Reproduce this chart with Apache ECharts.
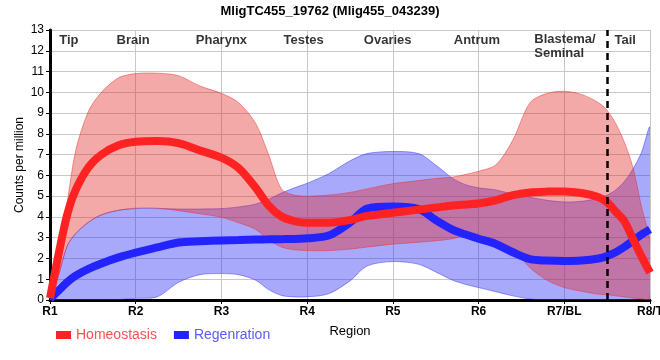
<!DOCTYPE html>
<html>
<head>
<meta charset="utf-8">
<script src="https://cdn.jsdelivr.net/npm/echarts@6/dist/echarts.min.js"></script>
<style>
html,body{margin:0;padding:0;background:#fff;}
#chart{width:660px;height:360px;}
</style>
</head>
<body>
<div id="chart"></div>
<script>
// ---- data ----
const tickLabels = ['R1', 'R2', 'R3', 'R4', 'R5', 'R6', 'R7/BL', 'R8/T'];
const xPos = [0, 0.1, 0.2, 0.3, 0.45, 0.6, 0.8, 1.0, 1.25, 1.5, 1.75, 2.0, 2.2, 2.4, 2.55, 2.7, 2.85, 3.0, 3.25, 3.5,
              3.7, 4.0, 4.3, 4.5, 4.7, 4.85, 5.0, 5.2, 5.4, 5.6, 5.8, 6.0, 6.2, 6.4, 6.5, 6.6, 6.7, 6.8, 6.9, 7.0];
const homeoMean  = [0.1, 2.2, 4.1, 5.3, 6.4, 7.0, 7.45, 7.62, 7.65, 7.55, 7.2, 6.85, 6.35, 5.4, 4.55, 4.02, 3.8, 3.72, 3.72, 3.85,
                    4.05, 4.2, 4.35, 4.45, 4.55, 4.6, 4.65, 4.8, 5.05, 5.18, 5.22, 5.23, 5.15, 4.95, 4.7, 4.25, 3.8, 2.95, 2.1, 1.32];
const homeoUpper = [0, 2.5, 4.7, 7.2, 9.1, 10.0, 10.7, 10.9, 10.92, 10.8, 10.3, 9.95, 9.5, 8.5, 7.0, 5.35, 5.05, 5.0, 5.05, 5.18,
                    5.35, 5.6, 5.75, 5.85, 5.92, 6.05, 6.2, 6.5, 7.7, 9.5, 9.95, 10.05, 9.9, 9.5, 9.13, 8.5, 7.6, 6.4, 4.5, 2.8];
const homeoLower = [0, 1.2, 2.6, 3.2, 3.75, 4.1, 4.32, 4.42, 4.42, 4.3, 4.15, 3.98, 3.72, 3.4, 2.9, 2.55, 2.42, 2.38, 2.38, 2.45,
                    2.55, 2.69, 2.78, 2.85, 2.95, 3.1, 3.05, 2.85, 2.45, 1.55, 0.95, 0.6, 0.42, 0.28, 0.25, 0.2, 0.15, 0.1, 0.06, 0.03];
const regenMean  = [0.05, 0.45, 0.85, 1.17, 1.5, 1.76, 2.05, 2.28, 2.53, 2.77, 2.83, 2.87, 2.89, 2.91, 2.92, 2.93, 2.94, 2.97, 3.1, 3.73,
                    4.4, 4.5, 4.38, 3.85, 3.38, 3.15, 2.95, 2.7, 2.3, 1.97, 1.9, 1.88, 1.9, 2.0, 2.12, 2.3, 2.55, 2.85, 3.15, 3.4];
const regenUpper = [0, 1.2, 2.6, 3.2, 3.75, 4.1, 4.32, 4.4, 4.4, 4.38, 4.38, 4.4, 4.48, 4.62, 4.85, 5.15, 5.4, 5.62, 6.08, 6.7,
                    7.05, 7.15, 7.05, 6.5, 5.85, 5.55, 5.4, 5.3, 5.1, 4.95, 4.8, 4.72, 4.75, 4.9, 5.05, 5.3, 5.7, 6.3, 7.1, 8.3];
const regenLower = [0, 0, 0, 0, 0, 0, 0.02, 0.08, 0.15, 0.85, 1.22, 1.27, 1.22, 0.95, 0.5, 0.22, 0.15, 0.15, 0.3, 0.92,
                    1.64, 1.85, 1.72, 1.35, 0.95, 0.75, 0.6, 0.4, 0.2, 0.05, 0, 0, 0, 0, 0, 0, 0, 0, 0, 0];
const regionNames = ['Tip', 'Brain', 'Pharynx', 'Testes', 'Ovaries', 'Antrum', 'Blastema/\nSeminal', 'Tail'];
const regionX     = [0.22, 0.97, 2.0, 2.96, 3.94, 4.98, 5.65, 6.71];
const dividerX = 6.5;
const seriesNames = ['Homeostasis', 'Regenration'];

const FONT = "'Liberation Sans', Arial, sans-serif";

function pairs(ys) { return xPos.map((x, i) => [x, ys[i]]); }

function bandRenderer(upper, lower, fill, stroke) {
  return function (params, api) {
    const pts = [];
    for (let i = 0; i < xPos.length; i++) pts.push(api.coord([xPos[i], upper[i]]));
    for (let i = xPos.length - 1; i >= 0; i--) {
      if (i === 0 && upper[0] === lower[0]) continue;
      pts.push(api.coord([xPos[i], lower[i]]));
    }
    return {
      type: 'polygon',
      shape: { points: pts, smooth: 0.3 },
      style: { fill: fill, stroke: stroke, lineWidth: 1 }
    };
  };
}

const chart = echarts.init(document.getElementById('chart'), null, { renderer: 'canvas' });

const regionData = regionNames.map((n, i) => {
  const multi = n.indexOf('\n') >= 0;
  return {
    name: n,
    value: [regionX[i], multi ? 12.2 : 12.52],
    label: multi ? { align: 'left' } : { align: 'center' }
  };
});

chart.setOption({
  animation: false,
  textStyle: { fontFamily: FONT },
  title: {
    text: 'MligTC455_19762 (Mlig455_043239)',
    left: 'center', top: 0,
    textStyle: { fontSize: 13, fontWeight: 'bold', color: '#000', fontFamily: FONT }
  },
  legend: {
    left: 51, top: 323,
    icon: 'rect', itemWidth: 15, itemHeight: 8, itemGap: 17,
    textStyle: { fontSize: 14, fontFamily: FONT },
    data: [
      { name: seriesNames[0], textStyle: { color: '#ff5050' } },
      { name: seriesNames[1], textStyle: { color: '#5a5aff' } }
    ]
  },
  grid: { left: 50, right: 10, top: 30, bottom: 60, containLabel: false, outerBoundsMode: 'none' },
  xAxis: [{
    type: 'value', min: 0, max: 7, interval: 1,
    name: 'Region', nameLocation: 'middle', nameGap: 25, nameMoveOverlap: false,
    nameTextStyle: { fontSize: 13, color: '#000', fontFamily: FONT },
    axisLine: { lineStyle: { color: '#000', width: 3 } },
    axisTick: { show: true, length: 4, lineStyle: { color: '#000', width: 1 } },
    axisLabel: {
      formatter: v => tickLabels[Math.round(v)] || '',
      color: '#000', fontSize: 12, fontWeight: 'bold', margin: 6, fontFamily: FONT
    },
    splitLine: { show: true, lineStyle: { color: '#c8c8c8', width: 1 } }
  }, {
    type: 'value', min: 0, max: 7, position: 'top',
    axisLine: { show: true, lineStyle: { color: '#000', width: 2 } },
    axisTick: { show: false }, axisLabel: { show: false }, splitLine: { show: false }
  }],
  yAxis: [{
    type: 'value', min: 0, max: 13, interval: 1,
    name: 'Counts per million', nameLocation: 'middle', nameGap: 24, nameMoveOverlap: false,
    nameTextStyle: { fontSize: 12, color: '#000', fontFamily: FONT },
    axisLine: { show: true, lineStyle: { color: '#000', width: 3 } },
    axisTick: { show: true, length: 4, lineStyle: { color: '#000', width: 1 } },
    axisLabel: { color: '#000', fontSize: 12, margin: 6, fontFamily: FONT },
    splitLine: { show: true, lineStyle: { color: '#c8c8c8', width: 1 } }
  }, {
    type: 'value', min: 0, max: 13, position: 'right',
    axisLine: { show: true, lineStyle: { color: '#000', width: 2 } },
    axisTick: { show: false }, axisLabel: { show: false }, splitLine: { show: false }
  }],
  series: [
    {
      type: 'custom', name: 'regenBand', silent: true, clip: true,
      renderItem: bandRenderer(regenUpper, regenLower, 'rgba(40,40,245,0.40)', 'rgba(40,40,245,0.45)'),
      data: [[0, 0]]
    },
    {
      type: 'line', name: seriesNames[1], data: pairs(regenMean),
      smooth: 0.3, showSymbol: false, symbol: 'none', color: '#2323ff',
      lineStyle: { width: 8, color: '#2323ff' }
    },
    {
      type: 'custom', name: 'homeoBand', silent: true, clip: true,
      renderItem: bandRenderer(homeoUpper, homeoLower, 'rgba(228,40,40,0.40)', 'rgba(228,40,40,0.45)'),
      data: [[0, 0]]
    },
    {
      type: 'line', name: seriesNames[0], data: pairs(homeoMean),
      smooth: 0.3, showSymbol: false, symbol: 'none', color: '#ff2222',
      lineStyle: { width: 8, color: '#ff2222' },
      markLine: {
        silent: true, symbol: ['none', 'none'],
        label: { show: false },
        lineStyle: { color: '#000', width: 2.5, type: [7, 5] },
        data: [{ xAxis: dividerX }]
      }
    },
    {
      type: 'scatter', name: 'regions', symbolSize: 0, silent: true, z: 10,
      data: regionData,
      label: {
        show: true, position: 'inside', formatter: p => p.name,
        color: '#000', fontSize: 13, fontWeight: 'bold', lineHeight: 14,
        verticalAlign: 'middle', fontFamily: FONT
      }
    }
  ]
});
</script>
</body>
</html>
